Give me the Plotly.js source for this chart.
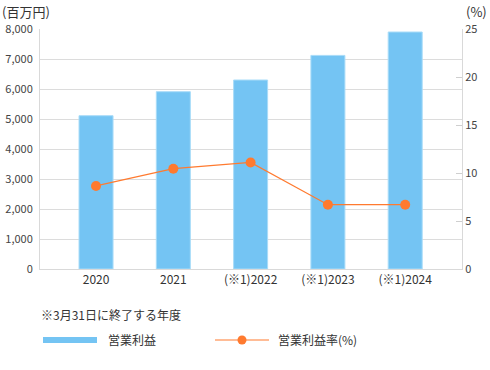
<!DOCTYPE html>
<html><head><meta charset="utf-8">
<script src="https://cdn.plot.ly/plotly-3.0.1.min.js"></script>
<style>html,body{margin:0;padding:0;background:#fff}#chart{width:490px;height:370px}</style>
</head><body><div id="chart"></div>
<script>
const categories = ["2020", "2021", "(※1)2022", "(※1)2023", "(※1)2024"];
const operatingProfit = [5110, 5910, 6300, 7120, 7900];
const operatingMargin = [8.65, 10.45, 11.1, 6.7, 6.7];
const leftTicks = [0, 1000, 2000, 3000, 4000, 5000, 6000, 7000, 8000];
const rightTicks = [0, 5, 10, 15, 20, 25];

const FONT = '"Noto Sans CJK JP", "Noto Sans", sans-serif';
const barColor = '#74c4f3';
const lineColor = '#ff7a2f';

const xIdx = categories.map((_, i) => i);

const traces = [
  {type: 'bar', x: xIdx, y: operatingProfit, width: 0.44,
   marker: {color: barColor, line: {color: '#a9dcf8', width: 1}},
   name: '営業利益', hoverinfo: 'y'},
  {type: 'scatter', mode: 'lines+markers', x: xIdx, y: operatingMargin, yaxis: 'y2',
   line: {color: lineColor, width: 1.2}, marker: {color: lineColor, size: 10},
   name: '営業利益率(%)', hoverinfo: 'y'}
];

const W = 422, H = 240;
const px = v => (v - 40) / W;
const py = v => (269 - v) / H;

const layout = {
  width: 490, height: 370,
  margin: {l: 40, r: 28, t: 29, b: 101},
  paper_bgcolor: '#fff', plot_bgcolor: '#fff',
  showlegend: false,
  font: {family: FONT, color: '#444', size: 11},
  bargap: 0,
  xaxis: {
    range: [-0.725, 4.735], tickvals: xIdx, ticktext: categories,
    showgrid: false, zeroline: false, showline: true, linecolor: '#d9d9d9', linewidth: 1,
    ticks: '', tickfont: {size: 12, color: '#333'}, fixedrange: true
  },
  yaxis: {
    range: [0, 8000], tickvals: leftTicks,
    ticktext: leftTicks.map(v => v.toLocaleString('en-US')),
    showgrid: true, gridcolor: '#dcdcdc', gridwidth: 1, zeroline: false,
    showline: true, linecolor: '#d9d9d9', ticks: '', ticklabelstandoff: 4,
    tickfont: {size: 11, color: '#444'}, fixedrange: true
  },
  yaxis2: {
    range: [0, 25], tickvals: rightTicks, overlaying: 'y', side: 'right',
    showgrid: false, zeroline: false, showline: true, linecolor: '#d9d9d9',
    ticks: 'inside', ticklen: 6, tickcolor: '#cfcfcf',
    tickfont: {size: 11, color: '#444'}, fixedrange: true
  },
  shapes: [
    {type: 'rect', xref: 'paper', yref: 'paper', x0: px(43), x1: px(97), y0: py(343), y1: py(337),
     fillcolor: barColor, line: {width: 0}},
    {type: 'line', xref: 'paper', yref: 'paper', x0: px(215), x1: px(269), y0: py(340), y1: py(340),
     line: {color: lineColor, width: 1.2}},
    {type: 'circle', xref: 'paper', yref: 'paper', x0: px(237.5), x1: px(246.5), y0: py(344.5), y1: py(335.5),
     fillcolor: lineColor, line: {width: 0}}
  ],
  annotations: [
    {text: '(百万円)', xref: 'paper', yref: 'paper', x: px(1), y: py(11), xanchor: 'left', yanchor: 'middle',
     showarrow: false, borderpad: 0, font: {size: 13, color: '#333'}},
    {text: '(%)', xref: 'paper', yref: 'paper', x: px(488), y: py(11), xanchor: 'right', yanchor: 'middle',
     showarrow: false, borderpad: 0, font: {size: 13, color: '#333'}},
    {text: '※3月31日に終了する年度', xref: 'paper', yref: 'paper', x: px(39), y: py(314), xanchor: 'left', yanchor: 'middle',
     showarrow: false, font: {size: 12, color: '#333'}},
    {text: '営業利益', xref: 'paper', yref: 'paper', x: px(106), y: py(339), xanchor: 'left', yanchor: 'middle',
     showarrow: false, font: {size: 12, color: '#333'}},
    {text: '営業利益率(%)', xref: 'paper', yref: 'paper', x: px(276), y: py(339), xanchor: 'left', yanchor: 'middle',
     showarrow: false, font: {size: 12, color: '#333'}}
  ]
};

Plotly.newPlot('chart', traces, layout, {displayModeBar: false, staticPlot: true});
</script></body></html>
